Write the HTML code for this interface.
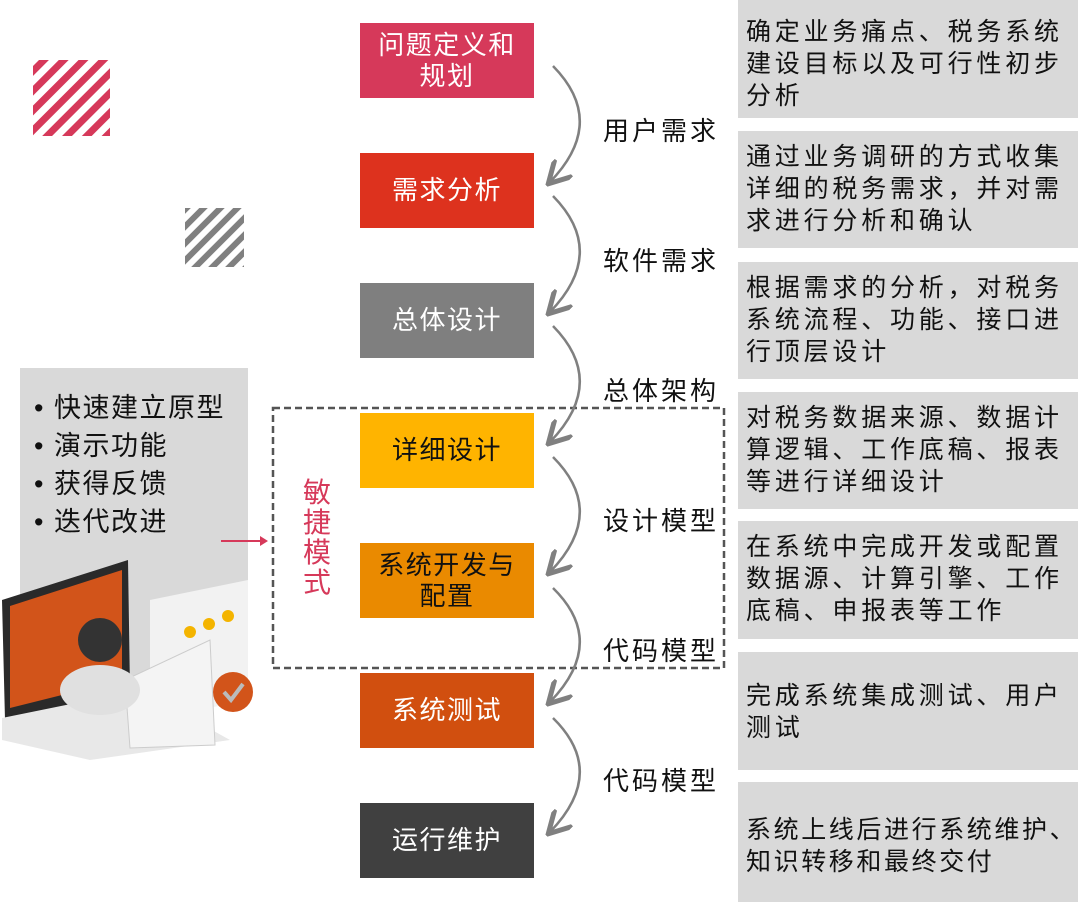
<!DOCTYPE html>
<html><head><meta charset="utf-8"><style>
body{margin:0;width:1080px;height:902px;background:#fff;position:relative;overflow:hidden;font-family:"Liberation Sans","Noto Sans CJK SC",sans-serif}
.b{position:absolute;left:360px;width:174px;height:75px;display:flex;align-items:center;justify-content:center;text-align:center;color:#fff;font-size:26px;line-height:31px;letter-spacing:1.5px}
.r{position:absolute;left:738px;width:340px;background:#d9d9d9;box-sizing:border-box;padding:10px 0 0 8px;font-size:25px;line-height:32px;letter-spacing:3.8px;color:#111}
.l{position:absolute;left:603px;font-size:26px;color:#111;letter-spacing:3px}
</style></head><body>
<svg width="1080" height="902" style="position:absolute;left:0;top:0">
<defs>
<pattern id="p1" width="14" height="14" patternUnits="userSpaceOnUse" patternTransform="rotate(45)"><rect width="7" height="14" fill="#d6395a"/></pattern>
<pattern id="p2" width="12" height="12" patternUnits="userSpaceOnUse" patternTransform="rotate(45)"><rect width="6" height="12" fill="#808080"/></pattern>
<marker id="a" markerWidth="10" markerHeight="10" refX="8" refY="5" orient="auto"><path d="M0,0 L9,5 L0,10" fill="none" stroke="#808080" stroke-width="2"/></marker>
</defs>
<rect x="33" y="60" width="77" height="76" fill="url(#p1)"/>
<rect x="185" y="208" width="59" height="59" fill="url(#p2)"/>
<rect x="20" y="368" width="228" height="330" fill="#d9d9d9"/>
<rect x="273" y="408" width="451" height="260" fill="none" stroke="#555" stroke-width="2.5" stroke-dasharray="7,4"/>
<g fill="none" stroke="#808080" stroke-width="2.5" marker-end="url(#a)">
<path d="M553,66 Q608,122 550,182"/>
<path d="M553,196 Q608,252 550,312"/>
<path d="M553,326 Q608,382 550,442"/>
<path d="M553,457 Q608,512 550,572"/>
<path d="M553,588 Q608,642 550,702"/>
<path d="M553,718 Q608,772 550,832"/>
</g>
<line x1="221" y1="541" x2="262" y2="541" stroke="#d6395a" stroke-width="2"/>
<path d="M260,536 L268,541 L260,546Z" fill="#d6395a"/>
<path d="M2,600 L128,560 L130,690 L5,720Z" fill="#2a2a2a"/>
<path d="M10,606 L122,570 L122,680 L10,708Z" fill="#d2541a"/>
<path d="M2,718 L140,690 L230,740 L90,760 L2,740Z" fill="#e8e8e8"/>
<path d="M150,600 L248,580 L248,700 L150,720Z" fill="#f2f2f2"/>
<path d="M125,680 L210,640 L215,745 L130,748Z" fill="#f4f4f4" stroke="#ccc"/>
<circle cx="190" cy="632" r="6" fill="#f4b400"/><circle cx="209" cy="624" r="6" fill="#f4b400"/><circle cx="228" cy="616" r="6" fill="#f4b400"/>
<circle cx="100" cy="640" r="22" fill="#333"/>
<ellipse cx="100" cy="690" rx="40" ry="25" fill="#e0e0e0"/>
<circle cx="233" cy="692" r="20" fill="#d2541a"/>
<path d="M224,692 L231,700 L243,684" stroke="#bbb" stroke-width="4" fill="none"/>
</svg>
<div class="b" style="top:23px;background:#d6395a">问题定义和<br>规划</div>
<div class="b" style="top:153px;background:#dd321e">需求分析</div>
<div class="b" style="top:283px;background:#7f7f7f">总体设计</div>
<div class="b" style="top:413px;background:#ffb400;color:#111">详细设计</div>
<div class="b" style="top:543px;background:#ea8a00;color:#111">系统开发与<br>配置</div>
<div class="b" style="top:673px;background:#d14f0f">系统测试</div>
<div class="b" style="top:803px;background:#404040">运行维护</div>
<div class="l" style="top:111px">用户需求</div>
<div class="l" style="top:241px">软件需求</div>
<div class="l" style="top:371px">总体架构</div>
<div class="l" style="top:501px">设计模型</div>
<div class="l" style="top:631px">代码模型</div>
<div class="l" style="top:761px">代码模型</div>
<div style="position:absolute;left:303px;top:478px;width:30px;font-size:28px;line-height:30px;color:#d6395a">敏<br>捷<br>模<br>式</div>
<div style="position:absolute;left:34px;top:389px;font-size:27px;line-height:38px;color:#111;letter-spacing:1.5px">• 快速建立原型<br>• 演示功能<br>• 获得反馈<br>• 迭代改进</div>
<div class="r" style="top:0;height:118px;padding-top:16px">确定业务痛点、税务系统建设目标以及可行性初步分析</div>
<div class="r" style="top:131px;height:117px">通过业务调研的方式收集详细的税务需求，并对需求进行分析和确认</div>
<div class="r" style="top:262px;height:117px">根据需求的分析，对税务系统流程、功能、接口进行顶层设计</div>
<div class="r" style="top:392px;height:117px">对税务数据来源、数据计算逻辑、工作底稿、报表等进行详细设计</div>
<div class="r" style="top:521px;height:118px">在系统中完成开发或配置数据源、计算引擎、工作底稿、申报表等工作</div>
<div class="r" style="top:652px;height:118px;padding-top:28px">完成系统集成测试、用户测试</div>
<div class="r" style="top:782px;height:120px;padding-top:32px;letter-spacing:2.6px">系统上线后进行系统维护、知识转移和最终交付</div>
</body></html>
